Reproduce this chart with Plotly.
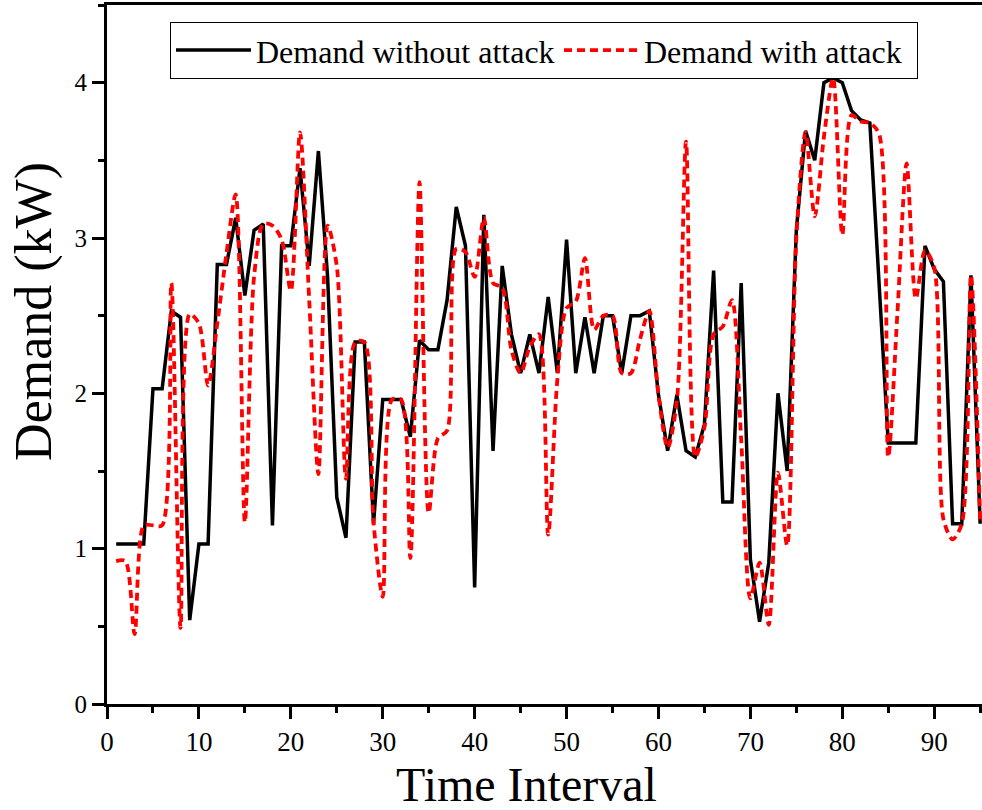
import plotly.graph_objects as go

time_interval = list(range(1, 96))

demand_without_attack = [
    1.03, 1.03, 1.03, 1.03, 2.03, 2.03, 2.53, 2.49, 0.54, 1.03,
    1.03, 2.83, 2.83, 3.13, 2.63, 3.05, 3.09, 1.15, 2.95, 2.95,
    3.45, 2.82, 3.56, 2.75, 1.33, 1.07, 2.33, 2.33, 1.16, 1.96,
    1.96, 1.96, 1.72, 2.34, 2.28, 2.28, 2.60, 3.20, 2.95, 0.75,
    3.15, 1.63, 2.82, 2.38, 2.13, 2.38, 2.13, 2.62, 2.13, 2.99,
    2.13, 2.49, 2.13, 2.50, 2.50, 2.13, 2.50, 2.50, 2.53, 1.99,
    1.63, 1.99, 1.63, 1.59, 1.80, 2.79, 1.30, 1.30, 2.71, 0.93,
    0.53, 0.91, 2.00, 1.50, 3.05, 3.69, 3.50, 4.00, 4.03, 4.00,
    3.82, 3.76, 3.74, 2.72, 1.68, 1.68, 1.68, 1.68, 2.95, 2.80,
    2.72, 1.16, 1.16, 2.76, 1.16,
]

demand_with_attack = [
    0.92, 0.92, 0.45, 1.15, 1.15, 1.15, 2.71, 0.49, 2.51, 2.45,
    2.05, 2.45, 2.90, 3.28, 1.17, 2.75, 3.09, 3.08, 2.99, 2.66,
    3.68, 2.60, 1.48, 3.08, 2.82, 1.45, 2.33, 2.33, 1.17, 0.69,
    1.96, 1.96, 0.94, 3.36, 1.23, 1.71, 1.76, 2.93, 2.91, 2.75,
    3.13, 2.71, 2.68, 2.28, 2.13, 2.30, 2.38, 1.09, 2.09, 2.55,
    2.59, 2.87, 2.41, 2.50, 2.50, 2.13, 2.13, 2.35, 2.53, 1.99,
    1.65, 1.95, 3.62, 1.59, 1.78, 2.38, 2.43, 2.60, 1.70, 0.68,
    0.91, 0.51, 1.49, 1.02, 3.00, 3.68, 3.14, 3.65, 4.03, 3.02,
    3.79, 3.75, 3.74, 3.67, 1.59, 2.52, 3.48, 2.61, 2.92, 2.81,
    1.19, 1.06, 1.16, 2.76, 1.16,
]

x_ticks = [0, 10, 20, 30, 40, 50, 60, 70, 80, 90]
y_ticks = [0, 1, 2, 3, 4]

FONT = "Times New Roman, Liberation Serif, serif"

fig = go.Figure()
fig.add_trace(go.Scatter(
    x=time_interval, y=demand_without_attack, mode="lines",
    name="Demand without attack", legendwidth=298,
    line=dict(color="black", width=3.5),
))
fig.add_trace(go.Scatter(
    x=time_interval, y=demand_with_attack, mode="lines",
    name="Demand with attack", legendwidth=268,
    line=dict(color="#ff0000", width=3.8, dash="8px,5px", shape="spline", smoothing=0.8),
))

axis_common = dict(
    showgrid=False, zeroline=False, showline=True, linecolor="black", linewidth=3,
    ticks="outside", ticklen=12, tickwidth=3, tickcolor="black",
)

fig.update_xaxes(
    range=[0, 95.2], tickmode="array", tickvals=x_ticks, ticktext=[str(v) for v in x_ticks],
    mirror=True,
    tickfont=dict(family=FONT, size=27, color="black"),
    minor=dict(dtick=5, tick0=0, ticks="outside", ticklen=6, tickwidth=3, tickcolor="black"),
    **axis_common,
)
fig.update_yaxes(
    range=[0, 4.5], tickmode="array", tickvals=y_ticks, ticktext=[str(v) for v in y_ticks],
    mirror=False,
    tickfont=dict(family=FONT, size=25, color="black"),
    minor=dict(dtick=0.5, tick0=0, ticks="outside", ticklen=6, tickwidth=3, tickcolor="black"),
    **axis_common,
)

fig.update_layout(
    width=982, height=810,
    margin=dict(l=107, r=0, t=5, b=105.5),
    paper_bgcolor="white", plot_bgcolor="white",
    font=dict(family=FONT, color="black"),
    showlegend=True,
    legend=dict(
        orientation="h", x=0.072, y=0.976, xanchor="left", yanchor="top",
        bordercolor="black", borderwidth=1, bgcolor="white",
        itemwidth=75, entrywidthmode="pixels",
        font=dict(family=FONT, size=32, color="black"),
    ),
    annotations=[
        dict(text="Time Interval", xref="paper", yref="paper", x=0.479, y=-0.115,
             xanchor="center", yanchor="middle", showarrow=False,
             font=dict(family=FONT, size=48, color="black")),
        dict(text="Demand (kW)", xref="paper", yref="paper", x=-0.0834, y=0.561,
             xanchor="center", yanchor="middle", showarrow=False, textangle=-90,
             font=dict(family=FONT, size=52, color="black")),
    ],
)

fig.write_html("out.html")
